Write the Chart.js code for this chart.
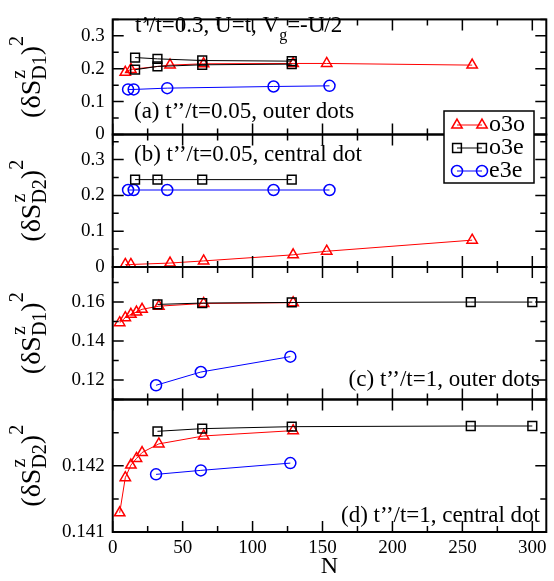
<!DOCTYPE html>
<html>
<head>
<meta charset="utf-8">
<script src="https://cdn.jsdelivr.net/npm/chart.js@4.4.0/dist/chart.umd.min.js"></script>
<style>
html, body { margin: 0; padding: 0; background: #fff; }
#wrap { position: relative; width: 554px; height: 581px; }
#wrap canvas { position: absolute; left: 0; top: 0; }
</style>
</head>
<body>
<div id="wrap">
  <canvas id="pd" width="554" height="581"></canvas>
  <canvas id="pc" width="554" height="581"></canvas>
  <canvas id="pb" width="554" height="581"></canvas>
  <canvas id="pa" width="554" height="581"></canvas>
</div>
<script>
// system sizes N (x values)
var nO3o = [9, 13, 41, 65, 129, 153, 257];
var nO3e = [16, 32, 64, 128];
var nE3e = [11, 15, 39, 115, 155];
var nO3o1 = [5, 9, 13, 17, 21, 33, 65, 129];
var nO3e1 = [32, 64, 128, 256, 300];
var nE3e1 = [31, 63, 127];

// (a) t''/t=0.05, outer dots
var aO3o = [0.189, 0.198, 0.211, 0.215, 0.216, 0.216, 0.211];
var aO3eLeft = [0.234, 0.230, 0.225, 0.223];
var aO3eRight = [0.197, 0.207, 0.212, 0.214];
var aE3e = [0.137, 0.137, 0.141, 0.146, 0.148];
// (b) t''/t=0.05, central dot
var bO3o = [0.007, 0.007, 0.011, 0.017, 0.034, 0.044, 0.075];
var bO3e = [0.244, 0.244, 0.244, 0.244];
var bE3e = [0.215, 0.215, 0.215, 0.215, 0.215];
// (c) t''/t=1, outer dots
var cO3o = [0.1494, 0.1520, 0.1537, 0.1549, 0.1563, 0.1579, 0.1593, 0.1597];
var cO3e = [0.1588, 0.1595, 0.1598, 0.1600, 0.1600];
var cE3e = [0.1173, 0.1241, 0.1320];
// (d) t''/t=1, central dot
var dO3o = [0.14129, 0.14182, 0.14201, 0.14211, 0.14220, 0.14233, 0.14245, 0.14253];
var dO3e = [0.14252, 0.14256, 0.14259, 0.14260, 0.14260];
var dE3e = [0.14187, 0.14193, 0.14204];

var xTicks = [0, 50, 100, 150, 200, 250, 300];
var legendNames = ['o3o', 'o3e', 'e3e'];

var SERIF = '"Liberation Serif", "Times New Roman", serif';
var styles = {
  o3o: { color: '#ff0000', shape: 'triangle', r: 6 },
  o3e: { color: '#000000', shape: 'rect', r: 6.2 },
  e3e: { color: '#0000ff', shape: 'circle', r: 5.5 }
};

function series(name, xs, ys) {
  var s = styles[name];
  return {
    label: name,
    data: xs.map(function (x, i) { return { x: x, y: ys[i] }; }),
    borderColor: s.color,
    borderWidth: 1,
    pointStyle: s.shape,
    pointRadius: s.r,
    pointHoverRadius: s.r,
    pointBorderWidth: 1.5,
    pointBorderColor: s.color,
    pointBackgroundColor: 'rgba(0,0,0,0)',
    showLine: true,
    fill: false,
    tension: 0
  };
}

function drawYTitle(ctx, cx, cy, sub) {
  var big = '28px ' + SERIF, small = '20px ' + SERIF;
  ctx.save();
  ctx.translate(cx, cy);
  ctx.rotate(-Math.PI / 2);
  ctx.fillStyle = '#000';
  ctx.textAlign = 'left';
  ctx.textBaseline = 'alphabetic';
  ctx.font = big;
  var w1 = ctx.measureText('(\u03b4S').width, w3 = ctx.measureText(')').width;
  ctx.font = small;
  var wz = ctx.measureText('z').width, wd = ctx.measureText(sub).width, w2 = ctx.measureText('2').width;
  var total = w1 + Math.max(wz, wd) + w3 + w2;
  var x = -total / 2, base = 12;
  ctx.font = big; ctx.fillText('(\u03b4S', x, base); x += w1;
  ctx.font = small; ctx.fillText('z', x + 1, base - 15); ctx.fillText(sub, x, base + 6); x += Math.max(wz, wd);
  ctx.font = big; ctx.fillText(')', x, base); x += w3;
  ctx.font = small; ctx.fillText('2', x, base - 17);
  ctx.restore();
}

function drawFrame(chart, p) {
  var ctx = chart.ctx, a = chart.chartArea, xs = chart.scales.x, ys = chart.scales.y;
  ctx.save();
  ctx.strokeStyle = '#000';
  ctx.lineWidth = 1.5;
  ctx.beginPath();
  for (var v = 0; v <= 300; v += 25) {
    var px = xs.getPixelForValue(v), len = v % 50 === 0 ? 11 : 6;
    ctx.moveTo(px, a.bottom); ctx.lineTo(px, a.bottom - len);
    ctx.moveTo(px, a.top); ctx.lineTo(px, a.top + len);
  }
  var k0 = Math.ceil(p.ymin / p.minor - 1e-6);
  for (var k = k0; k * p.minor <= p.ymax + 1e-9; k++) {
    var val = k * p.minor, py = ys.getPixelForValue(val);
    var major = Math.abs(val / p.major - Math.round(val / p.major)) < 1e-6;
    var l = major ? 11 : 6;
    ctx.moveTo(a.left, py); ctx.lineTo(a.left + l, py);
    ctx.moveTo(a.right, py); ctx.lineTo(a.right - l, py);
  }
  ctx.stroke();
  ctx.lineWidth = 2;
  ctx.strokeRect(a.left, a.top, a.right - a.left, a.bottom - a.top);
  ctx.restore();
}

function drawMarker(ctx, name, x, y) {
  var s = styles[name];
  ctx.save();
  ctx.strokeStyle = s.color;
  ctx.fillStyle = 'rgba(0,0,0,0)';
  ctx.lineWidth = 1.5;
  if (Chart.helpers && Chart.helpers.drawPoint) {
    Chart.helpers.drawPoint(ctx, { pointStyle: s.shape, radius: s.r, rotation: 0, borderWidth: 1.5 }, x, y);
  } else {
    ctx.beginPath();
    ctx.arc(x, y, s.r, 0, Math.PI * 2);
    ctx.stroke();
  }
  ctx.restore();
}

function drawLegend(ctx) {
  ctx.save();
  ctx.fillStyle = '#fff';
  ctx.fillRect(444, 111, 90, 72);
  ctx.strokeStyle = '#000';
  ctx.lineWidth = 1.5;
  ctx.strokeRect(444, 111, 90, 72);
  legendNames.forEach(function (name, i) {
    var y = 125 + i * 23;
    ctx.strokeStyle = styles[name].color;
    ctx.lineWidth = 1;
    ctx.beginPath(); ctx.moveTo(457, y); ctx.lineTo(482, y); ctx.stroke();
    drawMarker(ctx, name, 457, y);
    drawMarker(ctx, name, 482, y);
    ctx.fillStyle = '#000';
    ctx.font = '24px ' + SERIF;
    ctx.textBaseline = 'middle';
    ctx.textAlign = 'left';
    ctx.fillText(name, 489, y);
  });
  ctx.restore();
}

function makePanel(id, p) {
  var extras = {
    id: 'extras_' + id,
    afterDraw: function (chart) {
      var ctx = chart.ctx, a = chart.chartArea;
      drawFrame(chart, p);
      drawYTitle(ctx, 28, (a.top + a.bottom) / 2, p.sub);
      ctx.save();
      ctx.fillStyle = '#000';
      ctx.textBaseline = 'alphabetic';
      p.texts.forEach(function (t) {
        ctx.font = '23px ' + SERIF;
        ctx.textAlign = t.align || 'left';
        ctx.fillText(t.s, t.x, t.y);
        if (t.subAfter) {
          var w = ctx.measureText(t.s).width;
          ctx.font = '16px ' + SERIF;
          ctx.fillText(t.subAfter, t.x + w, t.y + 8);
          var ws = ctx.measureText(t.subAfter).width;
          ctx.font = '23px ' + SERIF;
          ctx.fillText(t.rest, t.x + w + ws, t.y);
        }
      });
      ctx.restore();
      if (p.legend) drawLegend(ctx);
    }
  };
  return new Chart(document.getElementById(id), {
    type: 'scatter',
    data: { datasets: p.datasets },
    options: {
      responsive: false,
      animation: false,
      devicePixelRatio: 1,
      layout: { padding: { left: 0, right: 3.2, top: p.top, bottom: p.showX ? 0 : 581 - p.bottom } },
      plugins: { legend: { display: false }, tooltip: { enabled: false } },
      scales: {
        x: {
          type: 'linear', min: 0, max: 310,
          display: p.showX,
          afterFit: function (s) { s.height = p.showX ? 49 : 0; },
          afterBuildTicks: function (s) { s.ticks = xTicks.map(function (v) { return { value: v }; }); },
          grid: { display: false, drawTicks: false },
          border: { display: false },
          ticks: { includeBounds: false, autoSkip: false, maxRotation: 0, padding: 5, color: '#000',
                   font: { family: SERIF, size: 19 } },
          title: { display: true, text: 'N', color: '#000', padding: { top: 0, bottom: 0 },
                   font: { family: SERIF, size: 24 } }
        },
        y: {
          type: 'linear', min: p.ymin, max: p.ymax,
          afterFit: function (s) { s.width = 112.7; },
          afterBuildTicks: function (s) { s.ticks = p.yTicks.map(function (v) { return { value: v }; }); },
          grid: { display: false, drawTicks: false },
          border: { display: false },
          ticks: { autoSkip: false, padding: 8, color: '#000', font: { family: SERIF, size: 19 },
                   callback: function (v) { return String(+v.toFixed(4)); } }
        }
      }
    },
    plugins: [extras]
  });
}

makePanel('pd', {
  top: 399.5, bottom: 532, showX: true, ymin: 0.141, ymax: 0.143, major: 0.001, minor: 0.0005,
  yTicks: [0.141, 0.142], sub: 'D2',
  datasets: [series('o3e', nO3e1, dO3e), series('e3e', nE3e1, dE3e), series('o3o', nO3o1, dO3o)],
  texts: [{ s: '(d) t\u2019\u2019/t=1, central dot', x: 540, y: 522, align: 'right' }]
});
makePanel('pc', {
  top: 267, bottom: 399.5, showX: false, ymin: 0.11, ymax: 0.178, major: 0.02, minor: 0.01,
  yTicks: [0.12, 0.14, 0.16], sub: 'D1',
  datasets: [series('o3e', nO3e1, cO3e), series('e3e', nE3e1, cE3e), series('o3o', nO3o1, cO3o)],
  texts: [{ s: '(c) t\u2019\u2019/t=1, outer dots', x: 540, y: 386, align: 'right' }]
});
makePanel('pb', {
  top: 134.5, bottom: 267, showX: false, ymin: 0, ymax: 0.37, major: 0.1, minor: 0.05,
  yTicks: [0, 0.1, 0.2, 0.3], sub: 'D2',
  datasets: [series('o3e', nO3e, bO3e), series('e3e', nE3e, bE3e), series('o3o', nO3o, bO3o)],
  texts: [{ s: '(b) t\u2019\u2019/t=0.05, central dot', x: 134, y: 161 }]
});
makePanel('pa', {
  top: 2, bottom: 134.5, showX: false, ymin: 0, ymax: 0.35, major: 0.1, minor: 0.05,
  yTicks: [0, 0.1, 0.2, 0.3], sub: 'D1', legend: true,
  datasets: [series('o3e', nO3e, aO3eLeft), series('o3e', nO3e, aO3eRight),
             series('e3e', nE3e, aE3e), series('o3o', nO3o, aO3o)],
  texts: [
    { s: 't\u2019/t=0.3, U=t, V', x: 135, y: 32, subAfter: 'g', rest: '=-U/2' },
    { s: '(a) t\u2019\u2019/t=0.05, outer dots', x: 134, y: 118 }
  ]
});
</script>
</body>
</html>
